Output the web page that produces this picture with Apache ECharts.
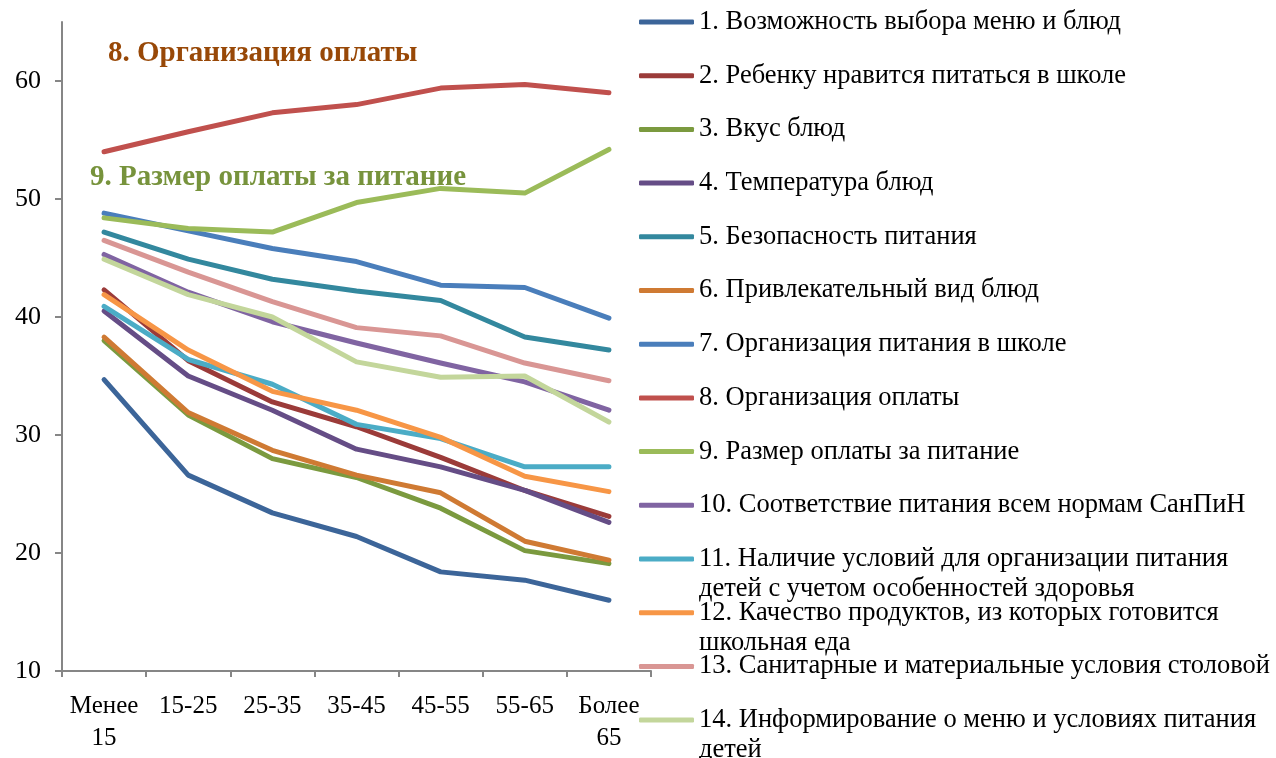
<!DOCTYPE html>
<html>
<head>
<meta charset="utf-8">
<title>Удовлетворенность питанием по возрастам</title>
<script src="https://cdn.jsdelivr.net/npm/echarts@6/dist/echarts.min.js"></script>
<style>
  html, body { margin: 0; padding: 0; background: #ffffff; }
  #chart { width: 1276px; height: 758px; }
</style>
</head>
<body>
<div id="chart"></div>
<script>
// возрастные группы
const categories = ['Менее\n15', '15-25', '25-35', '35-45', '45-55', '55-65', 'Более\n65']
const yTicks = [10, 20, 30, 40, 50, 60]

const names = [
  '1. Возможность выбора меню и блюд',
  '2. Ребенку нравится питаться в школе',
  '3. Вкус блюд',
  '4. Температура блюд',
  '5. Безопасность питания',
  '6. Привлекательный вид блюд',
  '7. Организация питания в школе',
  '8. Организация оплаты',
  '9. Размер оплаты за питание',
  '10. Соответствие питания всем нормам СанПиН',
  '11. Наличие условий для организации питания\nдетей с учетом особенностей здоровья',
  '12. Качество продуктов, из которых готовится\nшкольная еда',
  '13. Санитарные и материальные условия столовой',
  '14. Информирование о меню и условиях питания\nдетей'
]

const menuChoice = [34.7, 26.6, 23.4, 21.4, 18.4, 17.7, 16.0]
const childLikes = [42.3, 36.3, 32.8, 30.7, 28.1, 25.3, 23.1]
const taste = [38.0, 31.7, 28.0, 26.4, 23.8, 20.2, 19.1]
const temperature = [40.5, 35.0, 32.1, 28.8, 27.3, 25.3, 22.6]
const safety = [47.2, 44.9, 43.2, 42.2, 41.4, 38.3, 37.2]
const appearance = [38.3, 31.9, 28.7, 26.6, 25.1, 21.0, 19.4]
const organization = [48.8, 47.3, 45.8, 44.7, 42.7, 42.5, 39.9]
const payOrganization = [54.0, 55.7, 57.3, 58.0, 59.4, 59.7, 59.0]
const payAmount = [48.4, 47.5, 47.2, 49.7, 50.9, 50.5, 54.2]
const sanpin = [45.3, 42.1, 39.6, 37.8, 36.1, 34.5, 32.1]
const healthConditions = [40.9, 36.4, 34.3, 30.9, 29.7, 27.3, 27.3]
const productQuality = [41.9, 37.2, 33.7, 32.1, 29.8, 26.5, 25.2]
const canteen = [46.5, 43.8, 41.3, 39.1, 38.4, 36.1, 34.6]
const informing = [44.9, 41.9, 40.0, 36.2, 34.9, 35.0, 31.1]

const seriesData = [menuChoice, childLikes, taste, temperature, safety, appearance, organization,
  payOrganization, payAmount, sanpin, healthConditions, productQuality, canteen, informing]

const colors = ['#3c6599', '#9b3b39', '#7b9a3f', '#654d86', '#33889e', '#cf7a33', '#4a7ebb',
  '#c0504d', '#9bbb59', '#8064a2', '#4bacc6', '#f79646', '#d99694', '#c3d69b']

const FONT = "'Liberation Serif', 'Times New Roman', serif"

const chart = echarts.init(document.getElementById('chart'))

// каждый пункт легенды отдельно: шаг как в Excel, без учёта второй строки
// у двухстрочных подписей пустая строка сверху, чтобы первая строка стояла на уровне значка
const legends = names.map((name, i) => {
  const center = 22 + i * 53.7
  const twoLines = name.indexOf('\n') >= 0
  return {
    data: [name],
    orient: 'vertical',
    left: 639,
    top: twoLines ? center - 45 : center - 15,
    padding: 0,
    icon: 'roundRect',
    itemWidth: 55,
    itemHeight: 5,
    selectedMode: false,
    formatter: twoLines ? n => '\u00a0\n' + n : n => n,
    textStyle: {
      fontFamily: FONT,
      fontSize: 26.5,
      color: '#000',
      lineHeight: 30
    }
  }
})

chart.setOption({
  backgroundColor: '#ffffff',
  animation: false,
  color: colors,
  grid: {
    left: 62,
    right: 625,
    top: 22,
    bottom: 87,
    containLabel: false
  },
  legend: legends,
  graphic: [
    {
      type: 'text',
      left: 108,
      top: 39,
      style: {
        text: '8. Организация оплаты',
        fontFamily: FONT,
        fontSize: 29,
        fontWeight: 'bold',
        fill: '#984807'
      }
    },
    {
      type: 'text',
      left: 90,
      top: 163,
      style: {
        text: '9. Размер оплаты за питание',
        fontFamily: FONT,
        fontSize: 29,
        fontWeight: 'bold',
        fill: '#77933c'
      }
    }
  ],
  xAxis: {
    type: 'category',
    data: categories,
    boundaryGap: true,
    axisLine: { lineStyle: { color: '#868686', width: 2 }},
    axisTick: { show: true, length: 6, lineStyle: { color: '#868686', width: 2 }},
    axisLabel: {
      fontFamily: FONT,
      fontSize: 25,
      color: '#000',
      lineHeight: 32,
      margin: 19,
      interval: 0
    }
  },
  yAxis: {
    type: 'value',
    min: 10,
    max: 65,
    interval: 10,
    splitLine: { show: false },
    axisLine: { show: true, lineStyle: { color: '#868686', width: 2 }},
    axisTick: { show: true, length: 7, customValues: yTicks, lineStyle: { color: '#868686', width: 2 }},
    axisLabel: {
      fontFamily: FONT,
      fontSize: 26,
      color: '#000',
      margin: 21,
      customValues: yTicks
    }
  },
  series: seriesData.map((data, index) => ({
    name: names[index],
    type: 'line',
    data: data,
    symbol: 'none',
    showSymbol: false,
    lineStyle: { width: 5, cap: 'round', join: 'round', color: colors[index] },
    itemStyle: { color: colors[index] }
  }))
})
</script>
</body>
</html>
